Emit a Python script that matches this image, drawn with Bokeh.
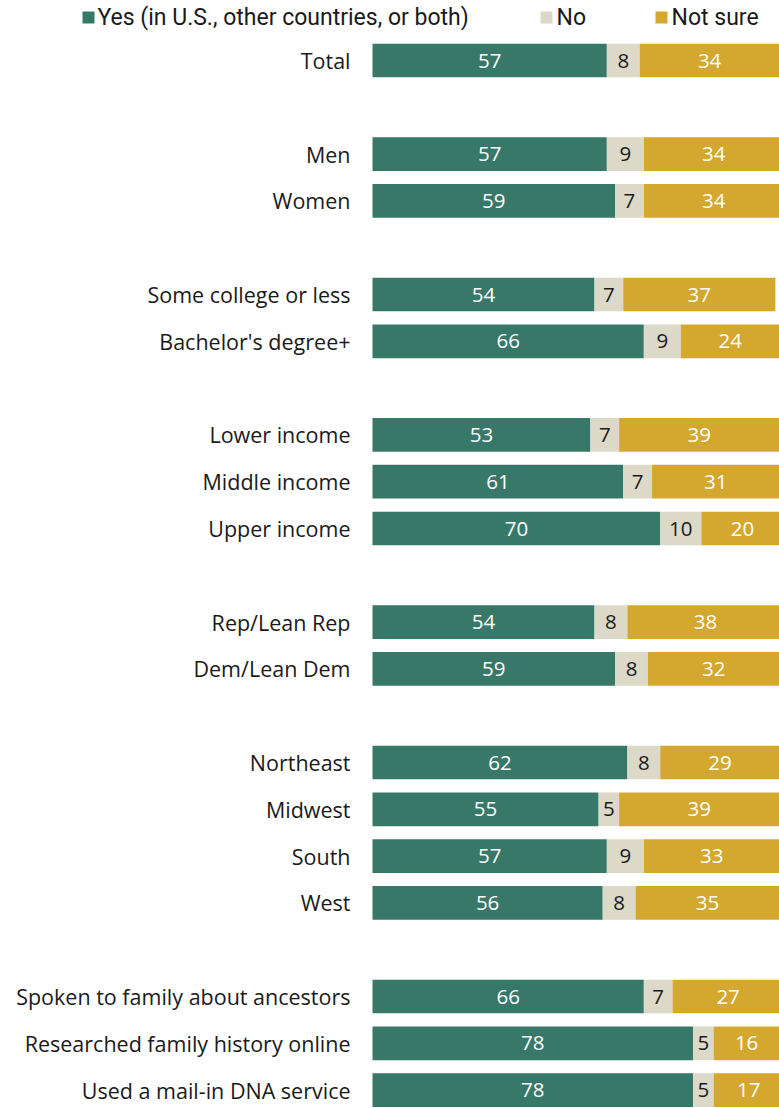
from bokeh.plotting import figure
from bokeh.models import ColumnDataSource, Range1d
from bokeh.core.properties import value
from bokeh.embed import file_html
from bokeh.resources import INLINE

categories = ["Total", "", "Men", "Women", "", "Some college or less", "Bachelor's degree+", "",
              "Lower income", "Middle income", "Upper income", "", "Rep/Lean Rep", "Dem/Lean Dem", "",
              "Northeast", "Midwest", "South", "West", "",
              "Spoken to family about ancestors", "Researched family history online", "Used a mail-in DNA service"]
yes_vals = [57, None, 57, 59, None, 54, 66, None, 53, 61, 70, None, 54, 59, None, 62, 55, 57, 56, None, 66, 78, 78]
no_vals = [8, None, 9, 7, None, 7, 9, None, 7, 7, 10, None, 8, 8, None, 8, 5, 9, 8, None, 7, 5, 5]
notsure_vals = [34, None, 34, 34, None, 37, 24, None, 39, 31, 20, None, 38, 32, None, 29, 39, 33, 35, None, 27, 16, 17]
series_names = ["Yes (in U.S., other countries, or both)", "No", "Not sure"]
colors = ["#387868", "#dcd9c9", "#d4a72f"]
label_colors = ["#ffffff", "#1a1a1a", "#ffffff"]

W, H = 779, 1108
PX_PER_UNIT = 4.111
BAR_LEFT_PX = 372
ROW_PX = 46.8
ROW0_PX = 60

x0 = -BAR_LEFT_PX / PX_PER_UNIT
x1 = (W - BAR_LEFT_PX) / PX_PER_UNIT
ytop = -ROW0_PX / ROW_PX
ybot = (H - ROW0_PX) / ROW_PX

p = figure(width=W, height=H, output_backend="svg", toolbar_location=None,
           x_range=Range1d(x0, x1), y_range=Range1d(ybot, ytop),
           min_border=0, outline_line_color=None)
p.xaxis.visible = False
p.yaxis.visible = False
p.grid.visible = False
p.background_fill_color = "white"
p.border_fill_color = "white"

FONT = "Open Sans"

# bars
rows = [i for i, v in enumerate(yes_vals) if v is not None]
series = [yes_vals, no_vals, notsure_vals]
lefts = [0.0] * len(rows)
for s, (vals, col, lcol) in enumerate(zip(series, colors, label_colors)):
    vs = [vals[i] for i in rows]
    rights = [l + v for l, v in zip(lefts, vs)]
    src = ColumnDataSource(dict(y=rows, left=lefts, right=rights,
                                mid=[(l + r) / 2 for l, r in zip(lefts, rights)],
                                txt=[str(v) for v in vs]))
    p.hbar(y="y", left="left", right="right", height=0.72, source=src,
           fill_color=col, line_color=None)
    p.text(x="mid", y="y", text="txt", source=src, text_align="center",
           text_baseline="middle", text_color=lcol, text_font=value(FONT),
           text_font_size="20.5px")
    lefts = rights

# category labels
lab_rows = [i for i, c in enumerate(categories) if c]
lsrc = ColumnDataSource(dict(y=lab_rows, txt=[categories[i] for i in lab_rows],
                             x=[-22 / PX_PER_UNIT] * len(lab_rows)))
p.text(x="x", y="y", text="txt", source=lsrc, text_align="right", text_baseline="middle",
       text_color="#1a1a1a", text_font=value(FONT), text_font_size="21.5px")

# legend
leg_y = (17 - ROW0_PX) / ROW_PX
sq_px = [88, 546, 661]
tx_px = [97, 556, 671]
for name, col, sx, tx in zip(series_names, colors, sq_px, tx_px):
    p.scatter(x=[(sx - BAR_LEFT_PX) / PX_PER_UNIT], y=[leg_y], marker="square", size=12,
              fill_color=col, line_color=None)
    p.text(x=[(tx - BAR_LEFT_PX) / PX_PER_UNIT], y=[leg_y], text=[name], text_align="left",
           text_baseline="middle", text_color="#1a1a1a",
           text_font=value("Roboto"), text_font_size="23px")

open("out.html", "w").write(file_html(p, INLINE))
